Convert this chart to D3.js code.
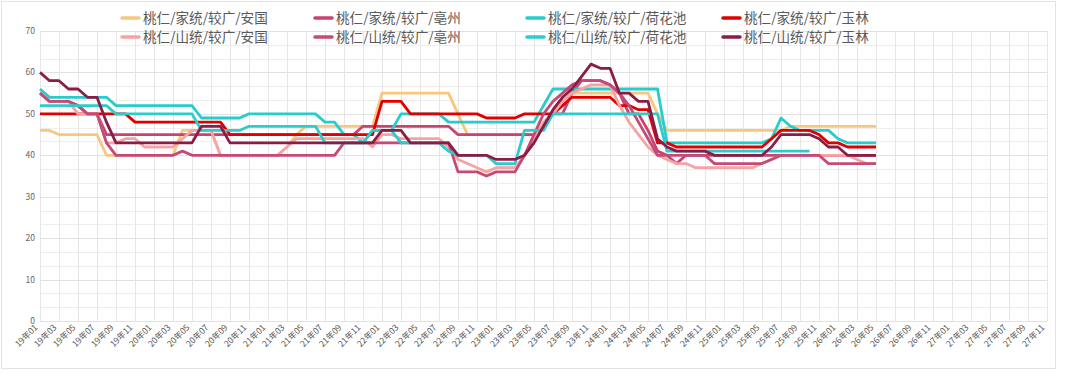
<!DOCTYPE html>
<html lang="zh">
<head>
<meta charset="UTF-8">
<title>桃仁价格走势</title>
<script src="https://d3js.org/d3.v7.min.js"></script>
<style>
  body { margin: 0; background: #fff; }
  svg { display: block; font-family: "Noto Sans CJK SC", "Noto Sans", sans-serif; }
</style>
</head>
<body>
<svg id="chart" width="1080" height="374"></svg>
<script>
// category axis: 19年01 .. 27年11, monthly
const years = ["19", "20", "21", "22", "23", "24", "25", "26", "27"];
const monthNames = ["01","02","03","04","05","06","07","08","09","10","11","12"];
const months = [];
years.forEach(y => monthNames.forEach(m => months.push(y + "年" + m)));
months.splice(months.indexOf("27年12"), 1);

const yTicks = [0, 10, 20, 30, 40, 50, 60, 70];

const seriesNames = [
  "桃仁/家统/较广/安国", "桃仁/家统/较广/亳州", "桃仁/家统/较广/荷花池", "桃仁/家统/较广/玉林",
  "桃仁/山统/较广/安国", "桃仁/山统/较广/亳州", "桃仁/山统/较广/荷花池", "桃仁/山统/较广/玉林"
];
const seriesColors = ["#f9c67e", "#c9436f", "#27cccc", "#e00000", "#f5a3a3", "#c54a78", "#2ccccc", "#8a1d47"];

// values from 19年01 to 26年05 (one row per year)
const jiaAnguo = [
  46,46,45,45,45,45,45,40,40,40,40,40,
  40,40,40,46,46,46,46,40,40,40,40,40,
  40,40,42,45,47,47,47,47,47,47,47,47,
  55,55,55,55,55,55,55,55,50,45,45,45,
  45,45,45,45,45,47,50,53,55,55,55,55,
  55,55,55,55,55,50,46,46,46,46,46,46,
  46,46,46,46,46,46,46,47,47,47,47,47,
  47,47,47,47,47
];
const jiaBozhou = [
  55,53,53,53,52,50,50,45,45,45,45,45,
  45,45,45,45,45,45,45,45,45,45,45,45,
  45,45,45,45,45,45,45,45,45,45,47,47,
  47,47,47,47,47,47,47,47,45,45,45,45,
  45,45,45,45,45,47,50,50,55,58,58,58,
  57,55,50,50,46,41,40,38,40,40,40,40,
  40,40,40,40,40,40,40,40,40,40,40,40,
  40,40,40,40,40
];
const jiaHehuachi = [
  56,54,54,54,54,54,54,54,52,52,52,52,
  52,52,52,52,52,49,49,49,49,49,50,50,
  50,50,50,50,50,50,48,48,45,45,43,46,
  46,46,50,50,50,50,50,48,48,48,48,48,
  48,48,48,48,48,52,56,56,56,56,56,56,
  56,56,56,56,56,56,43,43,43,43,43,43,
  43,43,43,43,43,44,49,47,46,46,46,46,
  44,43,43,43,43
];
const jiaYulin = [
  50,50,50,50,50,50,50,50,50,50,48,48,
  48,48,48,48,48,48,48,48,45,45,45,45,
  45,45,45,45,45,45,45,45,45,45,45,45,
  53,53,53,50,50,50,50,50,50,50,50,49,
  49,49,49,50,50,50,50,52,54,54,54,54,
  54,52,52,51,51,43,43,42,42,42,42,42,
  42,42,42,42,42,44,46,46,46,46,45,43,
  43,42,42,42,42
];
const shanAnguo = [
  55,53,53,53,50,50,50,43,43,44,44,42,
  42,42,42,44,46,46,46,40,40,40,40,40,
  40,40,42,44,44,44,44,44,44,44,44,42,
  45,45,44,44,44,44,44,42,39,38,37,36,
  37,37,37,40,44,48,50,53,55,56,57,57,
  57,52,48,45,42,40,39,38,38,37,37,37,
  37,37,37,37,38,39,40,40,40,40,40,40,
  40,40,39,38,38
];
const shanBozhou = [
  55,53,53,53,52,50,50,43,40,40,40,40,
  40,40,40,41,40,40,40,40,40,40,40,40,
  40,40,40,40,40,40,40,40,43,43,43,43,
  43,43,43,43,43,43,43,43,36,36,36,35,
  36,36,36,40,45,50,53,55,57,58,58,58,
  57,55,52,48,44,40,40,40,40,40,40,38,
  38,38,38,38,38,39,40,40,40,40,40,38,
  38,38,38,38,38
];
const shanHehuachi = [
  52,52,52,52,52,52,52,52,50,50,50,50,
  50,50,50,50,50,46,46,46,46,46,47,47,
  47,47,47,47,47,47,43,43,43,43,43,46,
  46,46,43,43,43,43,43,41,40,40,40,40,
  38,38,38,46,46,46,50,50,50,50,50,50,
  50,50,50,50,50,50,41,41,41,41,41,41,
  41,41,41,41,41,41,41,41,41,41,null,null,
  null,null,null,null,null
];
const shanYulin = [
  60,58,58,56,56,54,54,48,43,43,43,43,
  43,43,43,43,43,47,47,47,43,43,43,43,
  43,43,43,43,43,43,43,43,43,43,43,43,
  46,46,46,43,43,43,43,43,40,40,40,40,
  39,39,39,40,43,47,51,54,56,59,62,61,
  61,55,55,53,53,44,42,41,41,41,41,40,
  40,40,40,40,40,42,45,45,45,45,44,42,
  42,40,40,40,40
];
const seriesValues = [jiaAnguo, jiaBozhou, jiaHehuachi, jiaYulin, shanAnguo, shanBozhou, shanHehuachi, shanYulin];

const svg = d3.select("#chart");
const plotLeft = 40, plotRight = 1047, plotTop = 31, plotBottom = 321;

const x = d3.scalePoint().domain(months).range([plotLeft, plotRight]);
const y = d3.scaleLinear().domain([0, 70]).range([plotBottom, plotTop]);

// outer frame
svg.append("rect")
  .attr("x", 1.5).attr("y", 1.5).attr("width", 1054).attr("height", 367)
  .attr("fill", "#fff").attr("stroke", "#e3e3e3");

// grid
const labelled = months.filter((m, i) => i % 2 === 0);
const grid = svg.append("g").attr("stroke-width", 1).attr("shape-rendering", "crispEdges");
grid.selectAll(".h").data(d3.range(0, 21).map(k => k * 70 / 21))
  .join("line")
  .attr("x1", plotLeft).attr("x2", plotRight)
  .attr("y1", d => Math.round(y(d)) + 0.5).attr("y2", d => Math.round(y(d)) + 0.5)
  .attr("stroke", "#eeeeee");
grid.selectAll(".v").data(labelled)
  .join("line")
  .attr("x1", d => Math.round(x(d)) + 0.5).attr("x2", d => Math.round(x(d)) + 0.5)
  .attr("y1", plotTop).attr("y2", plotBottom)
  .attr("stroke", "#e6e6e6");
grid.selectAll(".hm").data(yTicks)
  .join("line")
  .attr("x1", plotLeft).attr("x2", plotRight)
  .attr("y1", d => Math.round(y(d)) + 0.5).attr("y2", d => Math.round(y(d)) + 0.5)
  .attr("stroke", "#e2e2e2");

// y labels
svg.append("g").selectAll("text").data(yTicks)
  .join("text")
  .attr("x", 35).attr("y", d => y(d))
  .attr("dy", "0.35em")
  .attr("text-anchor", "end")
  .attr("font-size", 8.5)
  .attr("fill", "#666")
  .text(d => d);

// x labels
svg.append("g").selectAll("text").data(labelled)
  .join("text")
  .attr("transform", d => `translate(${x(d) - 4},${plotBottom + 5}) rotate(-45)`)
  .attr("dy", "0.35em")
  .attr("text-anchor", "end")
  .attr("font-size", 8.5)
  .attr("fill", "#555")
  .text(d => d);

// lines
const line = d3.line()
  .defined(d => d.v !== null)
  .x(d => x(d.m))
  .y(d => y(d.v));

svg.append("g").selectAll("path")
  .data(seriesValues.map((vals, k) => ({ k, pts: vals.map((v, i) => ({ m: months[i], v })) })))
  .join("path")
  .attr("d", d => line(d.pts))
  .attr("fill", "none")
  .attr("stroke", d => seriesColors[d.k])
  .attr("stroke-width", 2.8)
  .attr("stroke-linejoin", "round");

// legend
const legendX = [122, 315, 527, 723];
const legendY = [18, 37];
const leg = svg.append("g").selectAll("g").data(seriesNames)
  .join("g")
  .attr("transform", (d, i) => `translate(${legendX[i % 4]},${legendY[Math.floor(i / 4)]})`);
leg.append("line")
  .attr("x1", 0).attr("x2", 17).attr("y1", 0).attr("y2", 0)
  .attr("stroke", (d, i) => seriesColors[i])
  .attr("stroke-width", 3.5)
  .attr("stroke-linecap", "round");
leg.append("text")
  .attr("x", 21).attr("y", 0).attr("dy", "0.36em")
  .attr("font-size", 13.6)
  .attr("fill", "#595959")
  .text(d => d);
</script>
</body>
</html>
